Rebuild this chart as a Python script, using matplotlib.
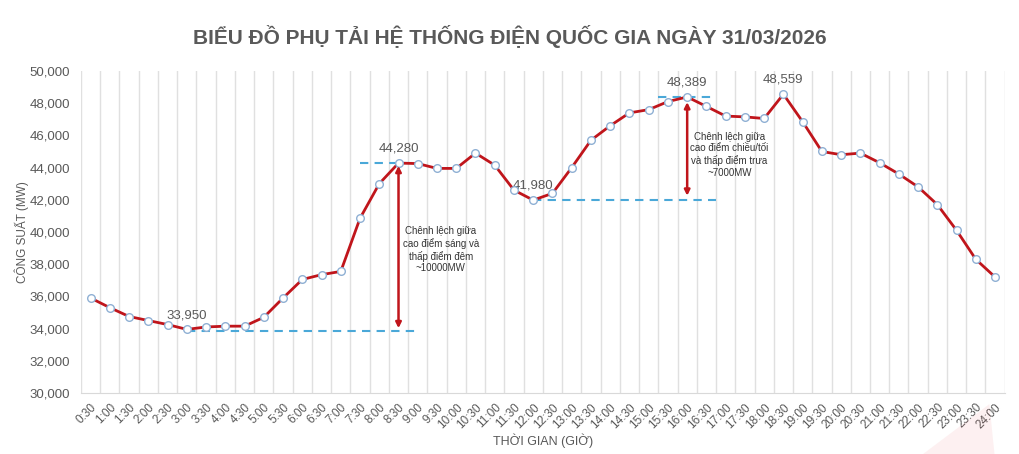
import matplotlib.pyplot as plt
from matplotlib.patches import Polygon
from matplotlib.ticker import FuncFormatter, MultipleLocator
import numpy as np

plt.rcParams['font.family'] = ['Liberation Sans', 'DejaVu Sans']

# time slots, half hour each
times = ["0:30", "1:00", "1:30", "2:00", "2:30", "3:00", "3:30", "4:00", "4:30", "5:00",
         "5:30", "6:00", "6:30", "7:00", "7:30", "8:00", "8:30", "9:00", "9:30", "10:00",
         "10:30", "11:00", "11:30", "12:00", "12:30", "13:00", "13:30", "14:00", "14:30", "15:00",
         "15:30", "16:00", "16:30", "17:00", "17:30", "18:00", "18:30", "19:00", "19:30", "20:00",
         "20:30", "21:00", "21:30", "22:00", "22:30", "23:00", "23:30", "24:00"]

load_mw = [35900, 35300, 34750, 34500, 34250, 33950, 34100, 34150, 34150, 34700,
           35900, 37050, 37350, 37550, 40850, 43000, 44280, 44250, 43950, 43950,
           44900, 44150, 42600, 41980, 42400, 44000, 45700, 46600, 47400, 47600,
           48100, 48389, 47800, 47200, 47150, 47050, 48559, 46850, 45000, 44800,
           44900, 44300, 43600, 42800, 41700, 40100, 38300, 37200]

labelled = ["3:00", "8:30", "12:00", "16:00", "18:30"]

note_morning = "Chênh lệch giữa\ncao điểm sáng và\nthấp điểm đêm\n~10000MW"
note_evening = "Chênh lệch giữa\ncao điểm chiều/tối\nvà thấp điểm trưa\n~7000MW"

grey = "#595959"
red = "#c0151b"
blue = "#4aa8d8"

fig = plt.figure(figsize=(10.2, 4.54), dpi=100)
ax = fig.add_axes([0.0794, 0.1344, 0.9056, 0.7092])

x = np.arange(len(times))
ax.plot(x, load_mw, color=red, lw=2, zorder=3)
ax.plot(x, load_mw, 'o', ms=5.5, mfc="white", mec="#8fb0d4", mew=1, zorder=4)

ax.set_xlim(-0.5, len(times) - 0.5)
ax.set_ylim(30000, 50000)
ax.yaxis.set_major_locator(MultipleLocator(2000))
ax.yaxis.set_major_formatter(FuncFormatter(lambda v, p: f"{int(v):,}"))

ax.set_xticks(x)
ax.set_xticklabels(times, rotation=45, ha="right", rotation_mode="anchor", fontsize=8.5, color=grey)
ax.tick_params(axis="x", length=0, pad=6)
ax.tick_params(axis="y", length=0, labelsize=9.5, labelcolor=grey, pad=8)
ax.set_xticks(np.arange(-0.5, len(times)), minor=True)
ax.tick_params(axis="x", which="minor", length=0)
ax.grid(True, which="minor", axis="x", color="#e0e0e0", lw=1)
ax.grid(False, which="major")

for s in ["top", "right", "left"]:
    ax.spines[s].set_visible(False)
ax.spines["bottom"].set_color("#d9d9d9")
ax.set_axisbelow(True)

ax.set_ylabel("CÔNG SUẤT (MW)", fontsize=8.5, color=grey, labelpad=0)
ax.set_xlabel("THỜI GIAN (GIỜ)", fontsize=9, color=grey, labelpad=2)
fig.suptitle("BIỂU ĐỒ PHỤ TẢI HỆ THỐNG ĐIỆN QUỐC GIA NGÀY 31/03/2026",
             fontsize=15, fontweight="bold", color=grey, y=0.945, x=0.5)

# value labels
for t in labelled:
    i = times.index(t)
    v = load_mw[i]
    ax.annotate(f"{v:,}", (i, v), xytext=(0, 6), textcoords="offset points",
                ha="center", va="bottom", fontsize=9.5, color=grey)

# morning peak vs night low
i_low = times.index("3:00")
i_pk = times.index("8:30")
ax.hlines(33850, i_low, i_pk + 1.1, colors=blue, linestyles=(0, (4, 3)), lw=1.5, zorder=2)
ax.hlines(load_mw[i_pk], i_pk - 2, i_pk + 1, colors=blue, linestyles=(0, (4, 3)), lw=1.5, zorder=2)
ax.annotate("", xy=(i_pk, 33850), xytext=(i_pk, load_mw[i_pk]),
            arrowprops=dict(arrowstyle="<|-|>", color=red, lw=1.8, mutation_scale=8), zorder=5)
ax.text(i_pk + 2.2, 38900, note_morning, ha="center", va="center", fontsize=7, color="#333333")

# evening peak vs noon low
i_noon = times.index("12:00")
i_ev = times.index("16:00")
ax.hlines(load_mw[i_noon], i_noon, i_ev + 1.5, colors=blue, linestyles=(0, (4, 3)), lw=1.5, zorder=2)
ax.hlines(load_mw[i_ev], i_ev - 1.5, i_ev + 1.5, colors=blue, linestyles=(0, (4, 3)), lw=1.5, zorder=2)
ax.annotate("", xy=(i_ev, load_mw[i_noon] + 100), xytext=(i_ev, load_mw[i_ev] - 150),
            arrowprops=dict(arrowstyle="<|-|>", color=red, lw=1.8, mutation_scale=8), zorder=5)
ax.text(i_ev + 2.2, 44800, note_evening, ha="center", va="center", fontsize=7, color="#333333")

# faint watermark corner
fig.patches.append(Polygon([[0.905, 0.0], [0.97, 0.11], [0.975, 0.0]], closed=True,
                           transform=fig.transFigure, color="#e8494f", alpha=0.08, lw=0))

fig.savefig("out.png", dpi=100)
